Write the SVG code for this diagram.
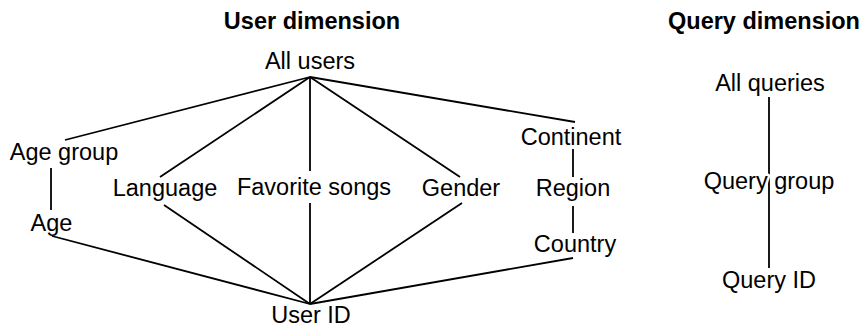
<svg xmlns="http://www.w3.org/2000/svg" width="866" height="329" viewBox="0 0 866 329">
<style>
text{font-family:"Liberation Sans",Arial,sans-serif;font-size:23.5px;fill:#000;text-anchor:middle}
.title{font-weight:bold}
.halo{stroke:#fff;stroke-width:5px;paint-order:stroke;stroke-linejoin:round}
#connectors line{stroke:#000;stroke-width:1.8;stroke-linecap:butt}
</style>
<rect width="866" height="329" fill="#fff"/>
<g id="connectors">
<line x1="310" y1="77" x2="65" y2="140"/>
<line x1="310" y1="77" x2="160" y2="177"/>
<line x1="310" y1="77" x2="310" y2="171"/>
<line x1="310" y1="77" x2="460" y2="177"/>
<line x1="310" y1="77" x2="575" y2="122"/>
<line x1="51" y1="168" x2="51" y2="210"/>
<line x1="573" y1="149" x2="573" y2="177"/>
<line x1="573" y1="206" x2="573" y2="233"/>
<line x1="52" y1="236" x2="310" y2="304"/>
<line x1="164" y1="205" x2="310" y2="304"/>
<line x1="310" y1="203" x2="310" y2="304"/>
<line x1="462" y1="203" x2="310" y2="304"/>
<line x1="573" y1="258" x2="310" y2="304"/>
<line x1="769" y1="97" x2="769" y2="268"/>
</g>
<g id="title-user"><text class="title" x="312" y="29">User dimension</text></g>
<g id="title-query"><text class="title" x="764" y="29">Query dimension</text></g>
<g id="all-users"><text x="310" y="69">All users</text></g>
<g id="age-group"><text x="64" y="160">Age group</text></g>
<g id="age"><text x="51.5" y="231">Age</text></g>
<g id="language"><text x="165" y="196">Language</text></g>
<g id="favorite-songs"><text x="314" y="195">Favorite songs</text></g>
<g id="gender"><text x="461" y="196">Gender</text></g>
<g id="continent"><text x="571" y="145">Continent</text></g>
<g id="region"><text x="573" y="196">Region</text></g>
<g id="country"><text x="575" y="252">Country</text></g>
<g id="user-id"><text x="311" y="323">User ID</text></g>
<g id="all-queries"><text x="770" y="91">All queries</text></g>
<g id="query-group"><text class="halo" x="769" y="189">Query group</text></g>
<g id="query-id"><text x="769" y="288">Query ID</text></g>
</svg>
